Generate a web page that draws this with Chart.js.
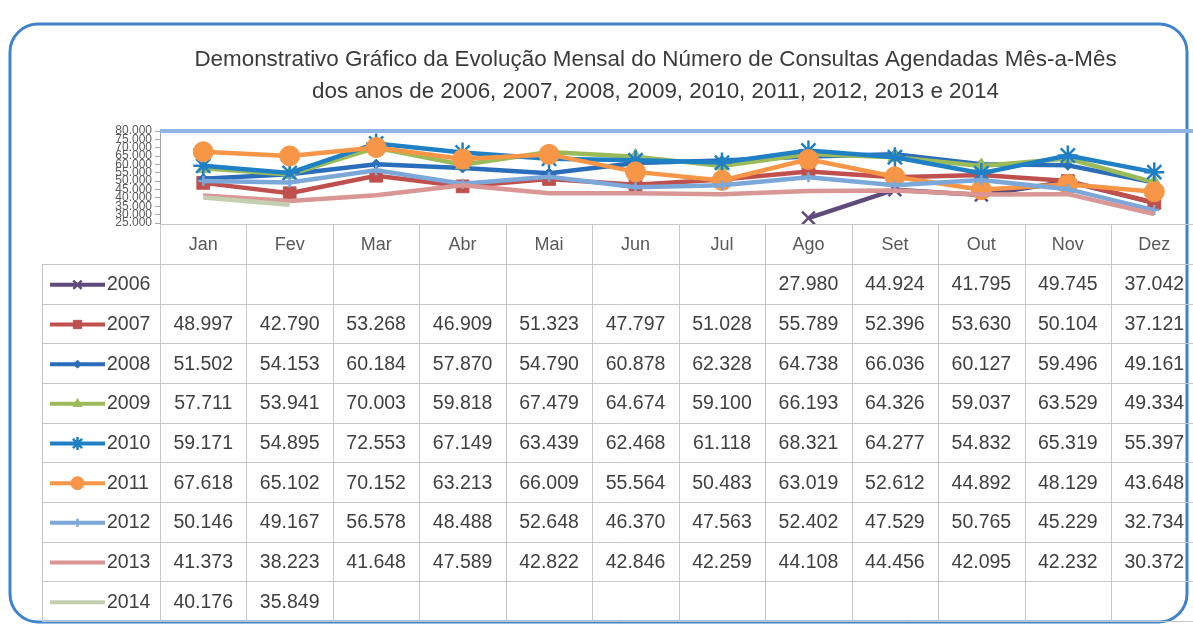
<!DOCTYPE html>
<html>
<head>
<meta charset="utf-8">
<script src="https://cdn.jsdelivr.net/npm/chart.js@4/dist/chart.umd.min.js"></script>
<style>
  html, body { margin:0; padding:0; overflow:hidden; background:#ffffff; width:1193px; height:628px; }
  #wrap { position:absolute; left:0; top:0; width:1210px; height:628px; }
</style>
</head>
<body>
<div id="wrap"><canvas id="c" width="1210" height="628" style="width:1210px;height:628px"></canvas></div>
<script>
const months = ['Jan','Fev','Mar','Abr','Mai','Jun','Jul','Ago','Set','Out','Nov','Dez'];
const years = ['2006','2007','2008','2009','2010','2011','2012','2013','2014'];

const s2006 = [null,null,null,null,null,null,null,27980,44924,41795,49745,37042];
const s2007 = [48997,42790,53268,46909,51323,47797,51028,55789,52396,53630,50104,37121];
const s2008 = [51502,54153,60184,57870,54790,60878,62328,64738,66036,60127,59496,49161];
const s2009 = [57711,53941,70003,59818,67479,64674,59100,66193,64326,59037,63529,49334];
const s2010 = [59171,54895,72553,67149,63439,62468,61118,68321,64277,54832,65319,55397];
const s2011 = [67618,65102,70152,63213,66009,55564,50483,63019,52612,44892,48129,43648];
const s2012 = [50146,49167,56578,48488,52648,46370,47563,52402,47529,50765,45229,32734];
const s2013 = [41373,38223,41648,47589,42822,42846,42259,44108,44456,42095,42232,30372];
const s2014 = [40176,35849,null,null,null,null,null,null,null,null,null,null];

const yMin = 25000, yMax = 80000, yStep = 5000;

const seriesValues = [s2006,s2007,s2008,s2009,s2010,s2011,s2012,s2013,s2014];
const colors = ['#604a7b','#c0504d','#2a6ebb','#9bbb59','#1f80c6','#f79646','#7ba7d9','#d99694','#c4cfb1'];
const styles = ['crossRot','rect','rectRot','triangle','star','circle','cross',false,false];
const radii  = [9,9,5,8,10,10,5,0,0];

function fmt(v){
  if (v === null || v === undefined) return '';
  const s = String(Math.round(v));
  return s.replace(/\B(?=(\d{3})+(?!\d))/g, '.');
}

const FONT = "'Liberation Sans', Arial, sans-serif";
Chart.defaults.font.family = FONT;

const datasets = years.map((y,i)=>({
  label: y,
  data: seriesValues[i],
  borderColor: colors[i],
  backgroundColor: colors[i],
  borderWidth: 4.5,
  pointStyle: styles[i] || 'circle',
  pointRadius: styles[i] ? radii[i] : 0,
  pointBorderWidth: (styles[i]==='star'||styles[i]==='crossRot'||styles[i]==='cross') ? 2.5 : 1,
  pointBackgroundColor: colors[i],
  pointBorderColor: colors[i],
  tension: 0,
  spanGaps: false,
  clip: false,
  order: 8 - i
}));

const rowTop = 224, headerH = 40, tableBottom = 621, legendLeft = 42;

const tablePlugin = {
  id: 'dataTable',
  beforeDraw(chart){
    const ctx = chart.ctx;
    ctx.save();
    ctx.fillStyle = '#ffffff';
    ctx.fillRect(0,0,chart.width,chart.height);
    const x0=10, y0=24, x1=1187, y1=622, r=28;
    ctx.beginPath();
    ctx.moveTo(x0+r,y0);
    ctx.lineTo(x1-r,y0); ctx.arcTo(x1,y0,x1,y0+r,r);
    ctx.lineTo(x1,y1-r); ctx.arcTo(x1,y1,x1-r,y1,r);
    ctx.lineTo(x0+r,y1); ctx.arcTo(x0,y1,x0,y1-r,r);
    ctx.lineTo(x0,y0+r); ctx.arcTo(x0,y0,x0+r,y0,r);
    ctx.closePath();
    ctx.strokeStyle = '#3f84c8';
    ctx.lineWidth = 3;
    ctx.stroke();
    ctx.restore();
  },
  beforeDatasetsDraw(chart){
    const ctx = chart.ctx, a = chart.chartArea;
    ctx.save();
    ctx.strokeStyle = '#8db4e2';
    ctx.lineWidth = 4;
    ctx.beginPath();
    ctx.moveTo(a.left, a.top);
    ctx.lineTo(a.right, a.top);
    ctx.stroke();
    ctx.restore();
  },
  afterDraw(chart){
    const ctx = chart.ctx, a = chart.chartArea, xs = chart.scales.x;
    const n = months.length;
    const colW = (a.right - a.left) / n;
    const nRows = years.length;
    const bodyTop = rowTop + headerH;
    const rowH = (tableBottom - bodyTop) / nRows;
    ctx.save();
    ctx.strokeStyle = '#c6c6c6';
    ctx.lineWidth = 1;
    ctx.beginPath();
    ctx.moveTo(a.left, rowTop+0.5); ctx.lineTo(a.right, rowTop+0.5);
    for (let r=0; r<=nRows; r++){
      const y = Math.round(bodyTop + r*rowH)+0.5;
      ctx.moveTo(legendLeft, y); ctx.lineTo(a.right, y);
    }
    ctx.moveTo(legendLeft+0.5, bodyTop); ctx.lineTo(legendLeft+0.5, tableBottom);
    for (let c=0; c<=n; c++){
      const x = Math.round(a.left + c*colW)+0.5;
      ctx.moveTo(x, rowTop); ctx.lineTo(x, tableBottom);
    }
    ctx.stroke();

    ctx.textAlign = 'center';
    ctx.textBaseline = 'middle';
    ctx.fillStyle = '#595959';
    ctx.font = '18px ' + FONT;
    months.forEach((m,i)=>{
      ctx.fillText(m, xs.getPixelForValue(i), rowTop + headerH/2 + 1);
    });
    ctx.font = '19.5px ' + FONT;
    ctx.fillStyle = '#404040';
    years.forEach((y,r)=>{
      const cy = bodyTop + (r+0.5)*rowH + 1;
      seriesValues[r].forEach((v,i)=>{
        if (v !== null) ctx.fillText(fmt(v), xs.getPixelForValue(i), cy);
      });
      const lx0 = 50, lx1 = 105;
      ctx.strokeStyle = colors[r];
      ctx.lineWidth = 4;
      ctx.beginPath(); ctx.moveTo(lx0, cy); ctx.lineTo(lx1, cy); ctx.stroke();
      if (styles[r] && Chart.helpers && Chart.helpers.drawPoint){
        ctx.fillStyle = colors[r];
        ctx.strokeStyle = colors[r];
        ctx.lineWidth = datasets[r].pointBorderWidth;
        Chart.helpers.drawPoint(ctx, {pointStyle: styles[r], radius: Math.max(4, radii[r]*0.65), rotation: 0, borderWidth: datasets[r].pointBorderWidth}, (lx0+lx1)/2, cy);
      }
      ctx.fillStyle = '#404040';
      ctx.textAlign = 'left';
      ctx.fillText(y, 107, cy);
      ctx.textAlign = 'center';
    });
    ctx.restore();
  }
};

new Chart(document.getElementById('c'), {
  type: 'line',
  data: { labels: months, datasets },
  options: {
    responsive: false,
    animation: false,
    devicePixelRatio: 1,
    layout: { padding: { left: 105, right: 4, top: 0, bottom: 405 } },
    plugins: {
      legend: { display: false },
      tooltip: { enabled: false },
      title: {
        display: true,
        text: ['Demonstrativo Gráfico da Evolução Mensal do Número de Consultas Agendadas Mês-a-Mês',
               'dos anos de 2006, 2007, 2008, 2009, 2010, 2011, 2012, 2013 e 2014'],
        color: '#3a3a3a',
        font: { size: 22.4, weight: 'normal', family: FONT, lineHeight: '32px' },
        padding: { top: 44, bottom: 23 }
      }
    },
    scales: {
      x: {
        display: false,
        offset: true
      },
      y: {
        min: yMin, max: yMax,
        afterFit(scale){ scale.width = 55; },
        ticks: {
          stepSize: yStep,
          autoSkip: false,
          color: '#595959',
          font: { size: 12 },
          padding: 3,
          callback: v => fmt(v)
        },
        grid: { display: true, drawOnChartArea: false, drawTicks: true, tickLength: 5, color: '#a6a6a6' },
        border: { color: '#a6a6a6' }
      }
    }
  },
  plugins: [tablePlugin]
});
</script>
</body>
</html>
